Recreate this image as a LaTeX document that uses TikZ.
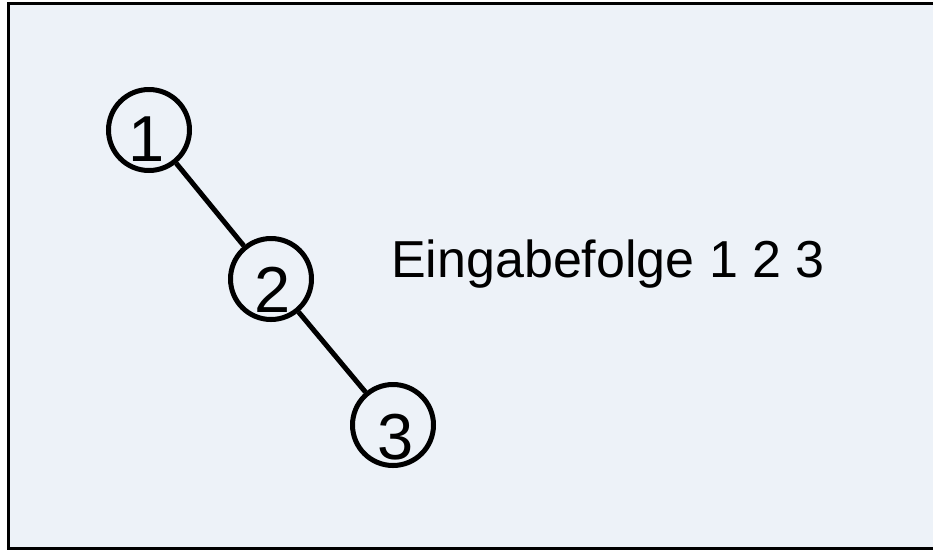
\documentclass[tikz,border=0pt]{standalone}
\usepackage{fontspec}
\setmainfont{Liberation Sans}
\definecolor{bgblue}{RGB}{237,242,248}
\begin{document}
\begin{tikzpicture}[x=1pt,y=-1pt,
  circ/.style={circle,draw=black,line width=5pt,minimum size=81pt,inner sep=0pt},
  digit/.style={font=\fontsize{65}{65}\selectfont,inner sep=0pt},
  edge/.style={draw=black,line width=5pt},
  caption/.style={font=\fontsize{52}{52}\selectfont,inner sep=0pt,anchor=base west}]
\useasboundingbox (0,0) rectangle (933,550);
\fill[white] (0,0) rectangle (933,550);
\draw[fill=bgblue,draw=black,line width=3pt] (8,3.5) rectangle (945,548);
\node[circ] (n1) at (149,130) {};
\node[circ] (n2) at (271,279) {};
\node[circ] (n3) at (393,425) {};
\draw[edge] (n1) -- (n2);
\draw[edge] (n2) -- (n3);
\node[digit] (d1) at ([xshift=-2pt,yshift=-9pt]n1.center) {1};
\node[digit] (d2) at ([xshift=2pt,yshift=-11pt]n2.center) {2};
\node[digit] (d3) at ([xshift=3pt,yshift=-12pt]n3.center) {3};
\node[caption] (cap) at (391,277) {Eingabefolge 1 2 3};
\end{tikzpicture}
\end{document}
